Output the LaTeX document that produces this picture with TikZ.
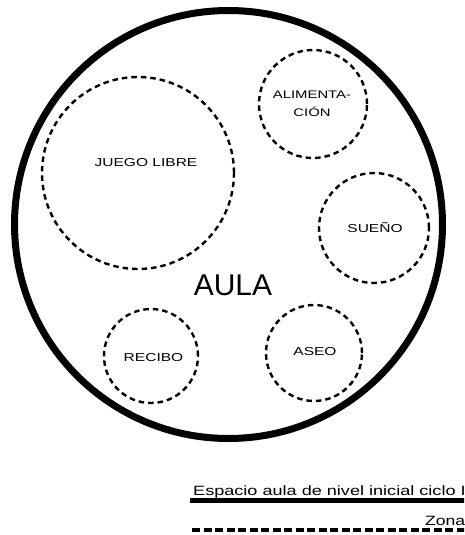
\documentclass[tikz,border=0pt]{standalone}
\usepackage{fontspec}
\setmainfont{Liberation Sans}
\usepackage{graphicx}
\newcommand{\widetxt}[1]{\scalebox{1.35}[1]{#1}}
\begin{document}
\begin{tikzpicture}[x=1pt,y=-1pt,
  zone/.style={circle,draw,line width=2.4pt,dash pattern=on 5.5pt off 4pt,minimum size=#1,inner sep=0pt},
  lab/.style={font=\fontsize{11.5}{13}\selectfont,align=center,inner sep=0pt},
  aula/.style={circle,draw,line width=7pt,minimum size=428pt,inner sep=0pt}]
\useasboundingbox (0,0) rectangle (464,535);
\clip (0,0) rectangle (464,535);
\node[aula] (aula) at (228.5,224.5) {};
\node[zone=192pt] (juego) at (138,173) {};
\node[lab] (juegot) at (146,163) {\widetxt{JUEGO LIBRE}};
\node[zone=108pt] (alim) at (313,104) {};
\node[lab,font=\fontsize{11}{18}\selectfont] (alimt) at (312,104) {\widetxt{ALIMENTA-}\\\widetxt{CIÓN}};
\node[zone=110pt] (sueno) at (374,228) {};
\node[lab] (suenot) at (375,228) {\widetxt{SUEÑO}};
\node[zone=94pt] (recibo) at (151,356) {};
\node[lab] (recibot) at (153.5,357.5) {\widetxt{RECIBO}};
\node[zone=96pt] (aseo) at (314,353) {};
\node[lab] (aseot) at (315,351.5) {\widetxt{ASEO}};
\node[inner sep=0pt,font=\fontsize{30}{32}\selectfont] (aulat) at (233,285) {AULA};
\node[anchor=base west,inner sep=0pt,font=\fontsize{13.5}{15}\selectfont] (cap) at (193,495) {\scalebox{1.34}[1]{Espacio aula de nivel inicial ciclo I}};
\coordinate (l1a) at (190,500.5);
\coordinate (l1b) at (470,500.5);
\draw[line width=5pt] (l1a) -- (l1b);
\node[anchor=base west,inner sep=0pt,font=\fontsize{13.5}{15}\selectfont] (zona) at (425,525) {\scalebox{1.3}[1]{Zona}};
\coordinate (l2a) at (192,529.5);
\coordinate (l2b) at (470,529.5);
\draw[line width=4pt,dash pattern=on 8pt off 3.5pt] (l2a) -- (l2b);
\end{tikzpicture}
\end{document}
